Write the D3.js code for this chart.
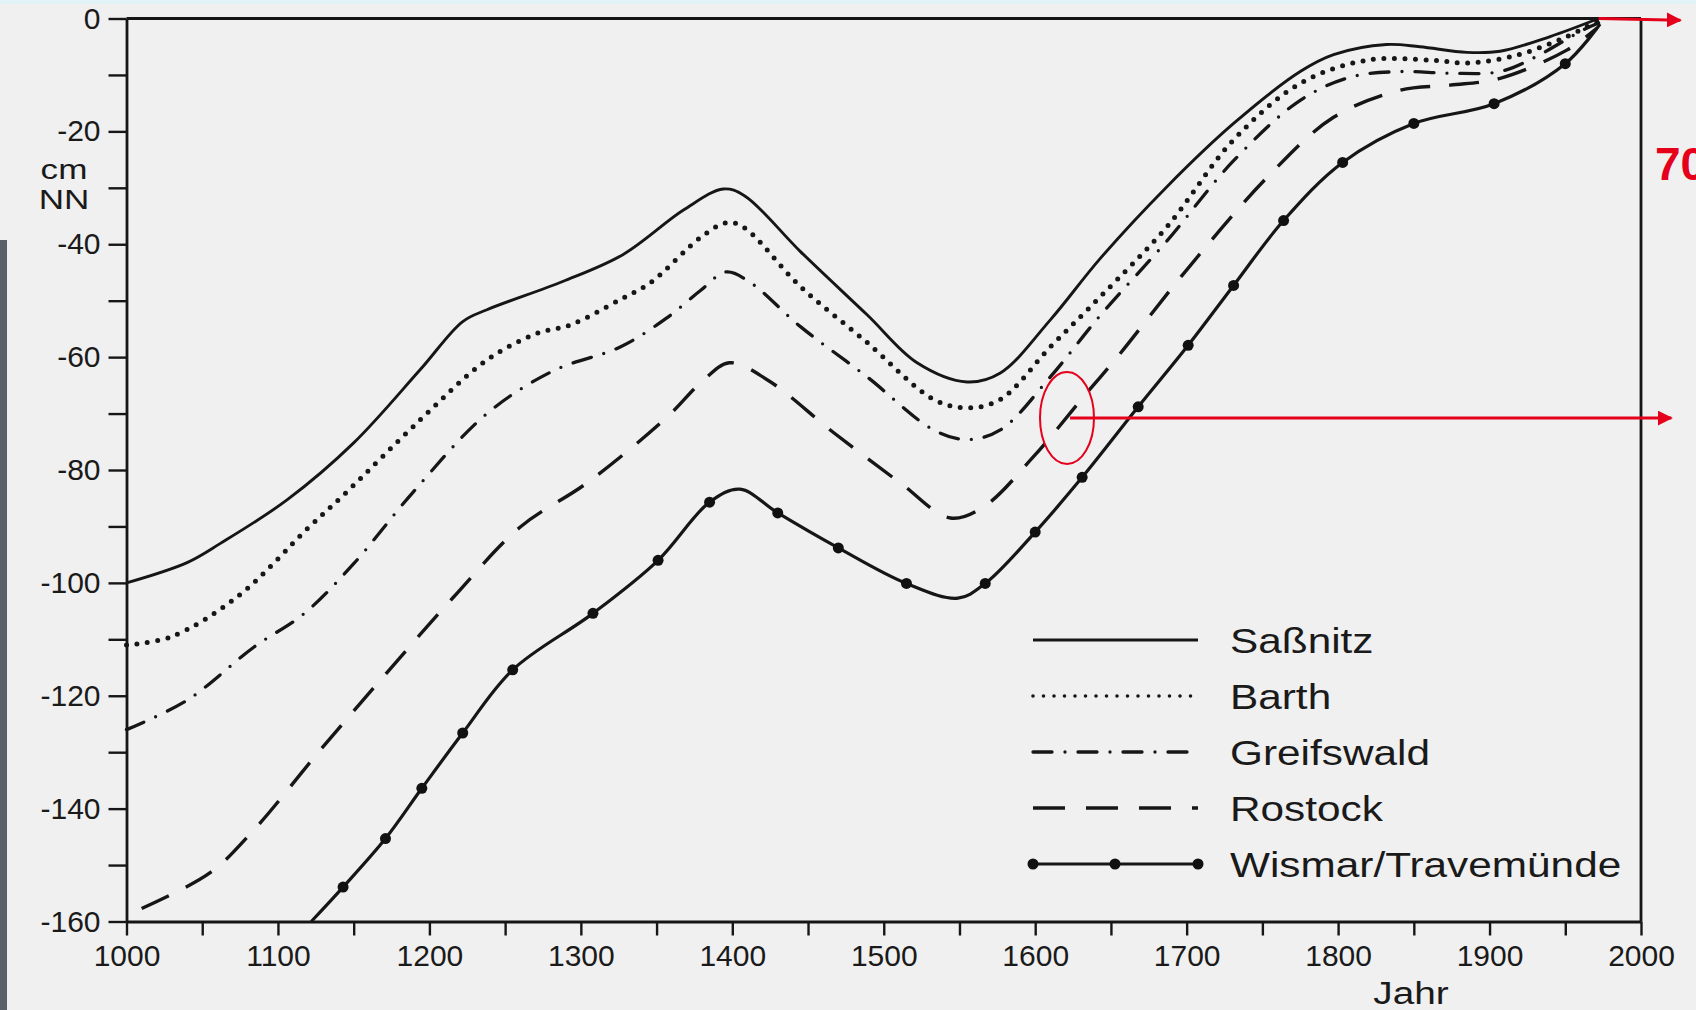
<!DOCTYPE html>
<html>
<head>
<meta charset="utf-8">
<script src="https://cdn.jsdelivr.net/npm/d3@7"></script>
<style>
  html, body { margin: 0; padding: 0; background: #f0f0f0; }
  svg { display: block; }
  text { font-family: "Liberation Sans", Arial, sans-serif; fill: #1a1a1a; }
</style>
</head>
<body>
<div id="my_datavis"></div>
<script>
// values (year, cm NN)
const sassnitzYears = [1000, 1040, 1062, 1106, 1150, 1194, 1222, 1238, 1288, 1328, 1368, 1394, 1408, 1445, 1489, 1522, 1555, 1577, 1610, 1643, 1687, 1731, 1775, 1797, 1832, 1854, 1885, 1907, 1940, 1972];
const sassnitzValues = [-100, -96.4, -93, -85.3, -75.2, -62.2, -53.7, -51.6, -46.6, -41.8, -33.9, -30.2, -31.4, -41.3, -52.5, -61, -64.4, -62.8, -53.4, -42.5, -29.8, -18.6, -9.4, -6.4, -4.6, -5, -6, -5.8, -3.2, 0];

const barthYears = [1000, 1029, 1073, 1121, 1145, 1194, 1238, 1271, 1293, 1326, 1346, 1379, 1396, 1407, 1445, 1489, 1533, 1555, 1577, 1610, 1643, 1687, 1731, 1775, 1819, 1863, 1885, 1918, 1951, 1971];
const barthValues = [-111, -109.6, -102.5, -90, -84, -71.1, -60.5, -55.8, -54.3, -49.8, -46.8, -38.8, -36.2, -36.9, -47.5, -57.4, -67.5, -69, -67.5, -58.2, -49.3, -36.9, -21.5, -11.5, -7.4, -7.4, -7.9, -6.5, -3.2, -0.5];

const greifswaldYears = [1000, 1040, 1084, 1117, 1150, 1189, 1238, 1282, 1326, 1357, 1379, 1396, 1412, 1445, 1489, 1533, 1555, 1577, 1610, 1643, 1687, 1731, 1775, 1808, 1841, 1874, 1907, 1929, 1962, 1972];
const greifswaldValues = [-126, -120.8, -111.4, -105.5, -96.6, -84, -70, -62.4, -58.2, -53, -48.2, -44.9, -46.8, -54.6, -63.5, -72.9, -74.6, -72.9, -63.5, -52.6, -39.4, -25.2, -14.5, -10.4, -9.4, -9.7, -9.4, -7, -2, -0.8];

const rostockYears = [1010, 1055, 1084, 1128, 1172, 1216, 1260, 1304, 1357, 1379, 1398, 1423, 1467, 1511, 1544, 1566, 1599, 1632, 1656, 1698, 1753, 1797, 1841, 1874, 1907, 1951, 1971];
const rostockValues = [-157.7, -151.4, -143.8, -129.6, -115.9, -102.5, -90.1, -82.3, -70.6, -64.6, -61, -64, -73.4, -82.3, -88.5, -86.5, -77.6, -67, -59.4, -45.2, -28.2, -17.5, -12.7, -11.8, -10.6, -5.6, -1.7];

const wismarYears = [1122, 1143, 1171, 1195, 1222, 1255, 1308, 1351, 1385, 1405, 1430, 1470, 1515, 1549, 1567, 1600, 1631, 1668, 1701, 1731, 1764, 1803, 1850, 1903, 1950, 1973];
const wismarValues = [-160, -153.9, -145.3, -136.4, -126.6, -115.4, -105.4, -96, -85.7, -83.4, -87.6, -93.8, -100.1, -102.7, -100.1, -91, -81.3, -68.8, -57.9, -47.3, -35.8, -25.5, -18.6, -15.1, -8, -1];
const wismarDots = [0, 1, 1, 1, 1, 1, 1, 1, 1, 0, 1, 1, 1, 0, 1, 1, 1, 1, 1, 1, 1, 1, 1, 1, 1, 0];

const seriesNames = ["Saßnitz", "Barth", "Greifswald", "Rostock", "Wismar/Travemünde"];
const yTicks = d3.range(-160, 1, 10);
const xTicks = d3.range(1000, 2001, 50);

const W = 1696, H = 1010;
const ink = "#161616";
const svg = d3.select("#my_datavis").append("svg").attr("width", W).attr("height", H);

svg.append("rect").attr("width", W).attr("height", H).attr("fill", "#f0f0f0");
// scan edges
svg.append("rect").attr("x", 0).attr("y", 0).attr("width", W).attr("height", 4).attr("fill", "#e2f3f7");
svg.append("rect").attr("x", 0).attr("y", 240).attr("width", 7).attr("height", H - 240).attr("fill", "#5b6168");

const x = d3.scaleLinear().domain([1000, 2000]).range([126.5, 1641]);
const y = d3.scaleLinear().domain([-160, 0]).range([921.5, 18.5]);

const series = [
  { name: seriesNames[0], years: sassnitzYears, values: sassnitzValues, dash: null, width: 2.9, cap: "butt" },
  { name: seriesNames[1], years: barthYears, values: barthValues, dash: "0 10.5", width: 5, cap: "round" },
  { name: seriesNames[2], years: greifswaldYears, values: greifswaldValues, dash: "19 13 0 13", width: 3.3, cap: "round" },
  { name: seriesNames[3], years: rostockYears, values: rostockValues, dash: "30 19", width: 3.4, cap: "butt" },
  { name: seriesNames[4], years: wismarYears, values: wismarValues, dash: null, width: 3.2, cap: "butt" },
];

const line = d3.line()
  .x((d) => x(d[0]))
  .y((d) => y(d[1]))
  .curve(d3.curveCatmullRom.alpha(0.5));

// axes
const yAxis = d3.axisLeft(y)
  .tickValues(yTicks)
  .tickSize(18)
  .tickSizeOuter(0)
  .tickPadding(8)
  .tickFormat((d) => (d % 20 === 0 ? String(d) : ""));
const gy = svg.append("g").attr("transform", `translate(${x(1000)},0)`).call(yAxis);

const xAxis = d3.axisBottom(x)
  .tickValues(xTicks)
  .tickSize(14)
  .tickSizeOuter(0)
  .tickPadding(9)
  .tickFormat((d) => (d % 100 === 0 ? String(d) : ""));
const gx = svg.append("g").attr("transform", `translate(0,${y(-160)})`).call(xAxis);

[gx, gy].forEach((g) => {
  g.select(".domain").attr("stroke", ink).attr("stroke-width", 2.8);
  g.selectAll(".tick line").attr("stroke", ink).attr("stroke-width", 2.4);
  g.selectAll(".tick text").attr("font-size", 30).attr("fill", "#1a1a1a")
    .attr("font-family", "\"Liberation Sans\", Arial, sans-serif");
});

// top and right frame
svg.append("line")
  .attr("x1", x(1000)).attr("x2", x(2000)).attr("y1", y(0)).attr("y2", y(0))
  .attr("stroke", ink).attr("stroke-width", 2.8);
svg.append("line")
  .attr("x1", x(2000)).attr("x2", x(2000)).attr("y1", y(0)).attr("y2", y(-160))
  .attr("stroke", ink).attr("stroke-width", 2.8);

// stretched labels, the scan is wider than the type
const stretched = (px, py, size, sx, txt, anchor) =>
  svg.append("text")
    .attr("transform", `translate(${px},${py}) scale(${sx},1)`)
    .attr("text-anchor", anchor || "start")
    .attr("font-size", size)
    .text(txt);

stretched(64, 179, 27, 1.3, "cm", "middle");
stretched(64, 209, 27, 1.3, "NN", "middle");
stretched(1411, 1004, 31, 1.25, "Jahr", "middle");

// curves
series.forEach((s) => {
  const pts = s.years.map((yr, i) => [yr, s.values[i]]);
  svg.append("path")
    .datum(pts)
    .attr("d", line)
    .attr("fill", "none")
    .attr("stroke", ink)
    .attr("stroke-width", s.width)
    .attr("stroke-linecap", s.cap)
    .attr("stroke-dasharray", s.dash);
});

svg.selectAll("circle.wismar")
  .data(wismarYears.map((yr, i) => [yr, wismarValues[i], wismarDots[i]]).filter((d) => d[2]))
  .enter()
  .append("circle")
  .attr("class", "wismar")
  .attr("cx", (d) => x(d[0]))
  .attr("cy", (d) => y(d[1]))
  .attr("r", 5.5)
  .attr("fill", "#111");

// legend
const legend = svg.append("g").attr("transform", "translate(1033,640)");
series.forEach((s, i) => {
  const row = legend.append("g").attr("transform", `translate(0,${i * 56})`);
  row.append("line")
    .attr("x1", 0).attr("x2", 165).attr("y1", 0).attr("y2", 0)
    .attr("stroke", ink)
    .attr("stroke-width", i === 1 ? 3.6 : s.width)
    .attr("stroke-linecap", s.cap)
    .attr("stroke-dasharray", i === 1 ? "0 10.5" : i === 3 ? "32 21" : s.dash);
  if (i === 4) {
    [0, 82, 165].forEach((cx) => row.append("circle").attr("cx", cx).attr("cy", 0).attr("r", 5.5).attr("fill", "#111"));
  }
  row.append("text")
    .attr("transform", "translate(197,0) scale(1.21,1)")
    .attr("dy", "0.36em")
    .attr("font-size", 35)
    .text(s.name);
});

// red annotations
const red = "#e5001b";
const defs = svg.append("defs");
defs.append("marker")
  .attr("id", "arrow")
  .attr("viewBox", "0 0 10 10")
  .attr("refX", 9).attr("refY", 5)
  .attr("markerWidth", 5).attr("markerHeight", 5)
  .attr("markerUnits", "strokeWidth")
  .attr("orient", "auto")
  .append("path").attr("d", "M0,0 L10,5 L0,10 Z").attr("fill", red);

svg.append("line")
  .attr("x1", x(1972)).attr("y1", y(0)).attr("x2", x(2026)).attr("y2", y(-0.3))
  .attr("stroke", red).attr("stroke-width", 3).attr("marker-end", "url(#arrow)");

svg.append("ellipse")
  .attr("cx", x(1621)).attr("cy", y(-70.8))
  .attr("rx", 27).attr("ry", 46)
  .attr("fill", "none").attr("stroke", red).attr("stroke-width", 2);

svg.append("line")
  .attr("x1", x(1623)).attr("y1", y(-70.8)).attr("x2", x(2020)).attr("y2", y(-70.8))
  .attr("stroke", red).attr("stroke-width", 3).attr("marker-end", "url(#arrow)");

svg.append("text")
  .attr("x", 1655).attr("y", 180)
  .attr("font-size", 46).attr("font-weight", "bold")
  .style("fill", red)
  .text("70");
</script>
</body>
</html>
